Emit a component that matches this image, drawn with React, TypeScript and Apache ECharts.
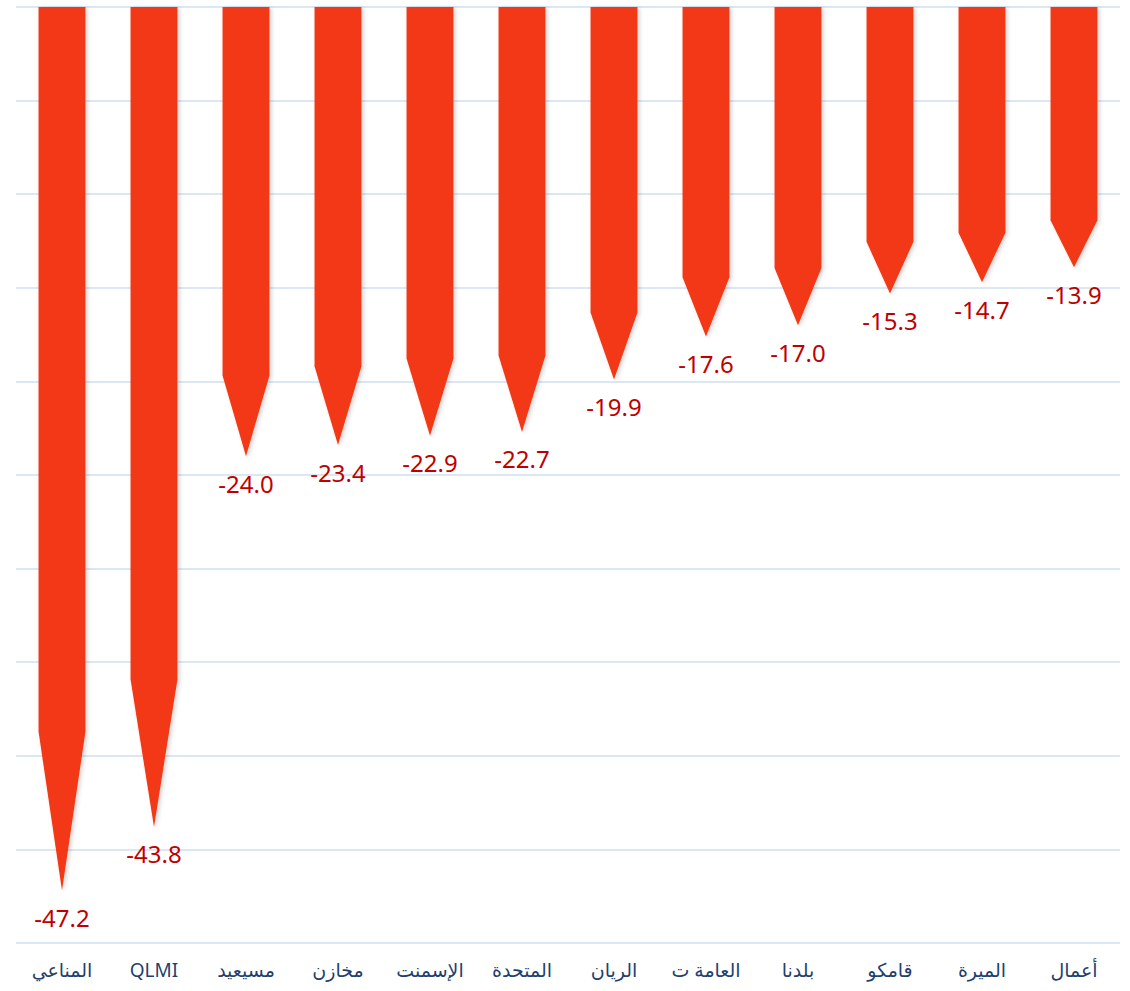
import React, { useEffect, useRef } from "react";
import * as echarts from "echarts";

const categories = ["المناعي", "QLMI", "مسيعيد", "مخازن", "الإسمنت", "المتحدة", "الريان", "العامة ت", "بلدنا", "قامكو", "الميرة", "أعمال"];
const values = [-47.2, -43.8, -24.0, -23.4, -22.9, -22.7, -19.9, -17.6, -17.0, -15.3, -14.7, -13.9];

export default function App() {
  const ref = useRef<HTMLDivElement>(null);
  useEffect(() => {
    const chart = echarts.init(ref.current!, null, { renderer: "svg" });
    chart.setOption({
      animation: false,
      backgroundColor: "#ffffff",
      grid: { left: 16, right: 10, top: 7, bottom: 48 },
      xAxis: {
        type: "category",
        data: categories,
        position: "bottom",
        axisLine: { show: false },
        axisTick: { show: false },
        axisLabel: {
          margin: 17,
          fontSize: 19,
          color: "#1F3F6E",
          fontFamily: "Noto Sans, DejaVu Sans, sans-serif",
        },
      },
      yAxis: {
        type: "value",
        min: -50,
        max: 0,
        interval: 5,
        axisLabel: { show: false },
        axisLine: { show: false },
        axisTick: { show: false },
        splitLine: { lineStyle: { color: "#DCE7F4", width: 2 } },
      },
      series: [
        {
          type: "custom",
          data: values.map((v, i) => [i, v]),
          encode: { x: 0, y: 1 },
          renderItem: (params: any, api: any) => {
            const idx = api.value(0);
            const val = api.value(1);
            const top = api.coord([idx, 0]);
            const bot = api.coord([idx, val]);
            const w = api.size([1, 0])[0] * 0.51;
            const x = top[0];
            const bodyEnd = top[1] + 0.82 * (bot[1] - top[1]);
            return {
              type: "group",
              children: [
                {
                  type: "polygon",
                  shape: {
                    points: [
                      [x - w / 2, top[1]],
                      [x + w / 2, top[1]],
                      [x + w / 2, bodyEnd],
                      [x, bot[1]],
                      [x - w / 2, bodyEnd],
                    ],
                  },
                  style: {
                    fill: "#F23912",
                    shadowBlur: 4,
                    shadowOffsetX: 2,
                    shadowOffsetY: 1,
                    shadowColor: "rgba(0,0,0,0.18)",
                  },
                },
                {
                  type: "text",
                  x: x,
                  y: bot[1] + 15,
                  style: {
                    text: val.toFixed(1),
                    fill: "#C00000",
                    fontSize: 24,
                    fontFamily: "Noto Sans, sans-serif",
                    align: "center",
                    verticalAlign: "top",
                  },
                },
              ],
            };
          },
        },
      ],
    });
    return () => chart.dispose();
  }, []);
  return (
    <div
      ref={ref}
      style={{ position: "fixed", left: 0, top: 0, width: 1130, height: 991 }}
    />
  );
}
